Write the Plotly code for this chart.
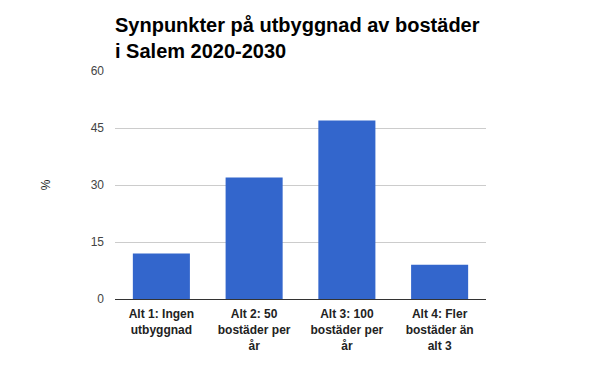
import plotly.graph_objects as go

categories = ["Alt 1: Ingen<br>utbyggnad", "Alt 2: 50<br>bostäder per<br>år",
              "Alt 3: 100<br>bostäder per<br>år", "Alt 4: Fler<br>bostäder än<br>alt 3"]
values = [12, 32, 47, 9]
y_ticks = [0, 15, 30, 45, 60]
title_text = "Synpunkter på utbyggnad av bostäder<br>i Salem 2020-2030"
y_title = "%"

W, H = 592, 363

fig = go.Figure(go.Bar(x=categories, y=values, marker_color="#3366cc",
                       marker_line_width=0, hoverinfo="skip"))

fig.update_layout(
    width=W, height=H,
    margin=dict(l=107, r=114, t=63, b=72, autoexpand=False),
    paper_bgcolor="white", plot_bgcolor="white",
    bargap=0.385,
    showlegend=False,
    font=dict(family="Liberation Sans, Arial, sans-serif", color="#444444", size=12),
    title=dict(text=title_text, x=107/W, xanchor="left", xref="container",
               y=1 - 24/H, yanchor="top", yref="container",
               font=dict(size=20, color="#000000", family="Liberation Sans, Arial, sans-serif",
                         weight="bold")),
)
fig.update_yaxes(range=[0, 60], tickvals=y_ticks, showgrid=True, gridcolor="#cccccc",
                 gridwidth=1, zeroline=False, ticks="", ticklabelstandoff=10,
                 automargin=False,
                 tickfont=dict(size=12, color="#444444"),
                 title=dict(text=y_title, standoff=37, font=dict(size=12, color="#222222")))
fig.update_xaxes(showline=True, linecolor="#333333", linewidth=1, ticks="",
                 automargin=False, ticklabelstandoff=4,
                 tickfont=dict(size=12, color="#222222", weight="bold"),
                 showgrid=False)

fig.write_html("out.html")
